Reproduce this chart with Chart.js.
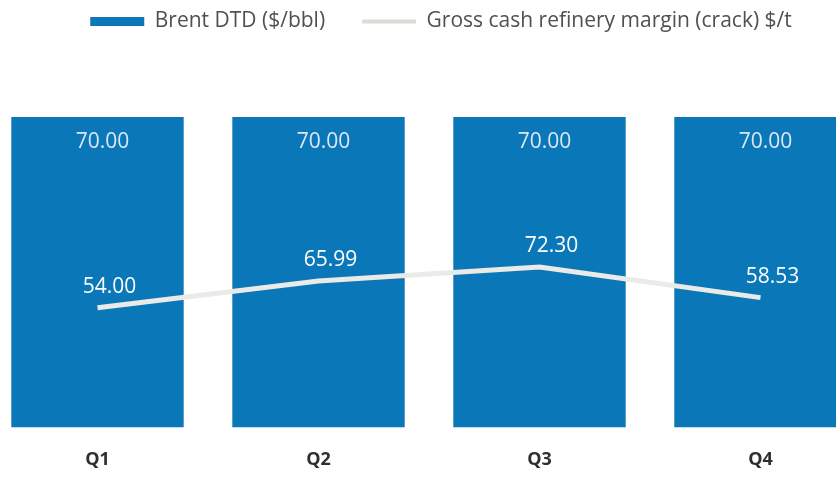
<!DOCTYPE html>
<html>
<head>
<meta charset="utf-8">
<script src="https://cdn.jsdelivr.net/npm/chart.js@4/dist/chart.umd.min.js"></script>
<style>
  html, body { margin: 0; padding: 0; background: #ffffff; overflow: hidden; width: 836px; height: 477px; }
  #wrap { position: absolute; left: -13px; top: 0; width: 884px; height: 493px; }
</style>
</head>
<body>
<div id="wrap"><canvas id="c" width="884" height="493"></canvas></div>
<script>
const categories = ['Q1', 'Q2', 'Q3', 'Q4'];
const brentValues = [70.00, 70.00, 70.00, 70.00];
const marginValues = [54.00, 65.99, 72.30, 58.53];
const seriesNames = ['Brent DTD ($/bbl)', 'Gross cash refinery margin (crack) $/t'];

const BAR_COLOR = '#0a77b9';
const LINE_COLOR = '#eaeae6';

const legendSpace = {
  id: 'legendSpace',
  afterInit(chart) {
    const lg = chart.legend;
    const orig = lg.fit;
    lg.fit = function () { orig.call(this); this.height = 117; };
  },
  afterLayout(chart) {
    const lg = chart.legend;
    lg.left += 12; lg.right += 12;
    lg.top -= 26; lg.bottom -= 26;
  }
};

const valueLabels = {
  id: 'valueLabels',
  afterDatasetsDraw(chart) {
    const ctx = chart.ctx;
    ctx.save();
    ctx.textAlign = 'center';
    ctx.textBaseline = 'middle';
    ctx.font = '21px "Open Sans", sans-serif';
    const barMeta = chart.getDatasetMeta(0);
    ctx.fillStyle = '#dbe8f4';
    barMeta.data.forEach((el, i) => {
      ctx.fillText(brentValues[i].toFixed(2), el.x + 5, el.y + 25);
    });
    const lineMeta = chart.getDatasetMeta(1);
    ctx.fillStyle = '#ffffff';
    lineMeta.data.forEach((el, i) => {
      ctx.fillText(marginValues[i].toFixed(2), el.x + 12, el.y - 21);
    });
    ctx.restore();
  }
};

new Chart(document.getElementById('c'), {
  data: {
    labels: categories,
    datasets: [
      {
        type: 'bar',
        label: seriesNames[0],
        data: brentValues,
        backgroundColor: BAR_COLOR,
        borderWidth: 0,
        barPercentage: 0.78,
        categoryPercentage: 1.0,
        yAxisID: 'y',
        order: 2
      },
      {
        type: 'line',
        label: seriesNames[1],
        data: marginValues,
        borderColor: LINE_COLOR,
        backgroundColor: LINE_COLOR,
        borderWidth: 5,
        pointRadius: 0,
        tension: 0,
        yAxisID: 'y2',
        order: 1
      }
    ]
  },
  options: {
    responsive: false,
    animation: false,
    layout: { padding: 0 },
    scales: {
      x: {
        offset: true,
        grid: { display: false, drawTicks: false },
        border: { display: false },
        ticks: {
          padding: 22,
          color: '#2f2f2f',
          font: { family: '"Open Sans", sans-serif', size: 18, weight: 'bold' }
        }
      },
      y: { display: false, min: 0, max: 70 },
      y2: { display: false, min: 0, max: 140 }
    },
    plugins: {
      tooltip: { enabled: false },
      legend: {
        position: 'top',
        labels: {
          usePointStyle: true,
          pointStyleWidth: 54,
          boxHeight: 9,
          padding: 37,
          color: '#505050',
          font: { family: '"Open Sans", sans-serif', size: 21 },
          generateLabels(chart) {
            return [
              { text: seriesNames[0], fillStyle: BAR_COLOR, strokeStyle: BAR_COLOR, lineWidth: 0, pointStyle: 'rect', datasetIndex: 0, fontColor: '#505050' },
              { text: seriesNames[1], fillStyle: LINE_COLOR, strokeStyle: '#dcdcd6', lineWidth: 4, pointStyle: 'line', datasetIndex: 1, fontColor: '#505050' }
            ];
          }
        }
      }
    }
  },
  plugins: [legendSpace, valueLabels]
});
</script>
</body>
</html>
